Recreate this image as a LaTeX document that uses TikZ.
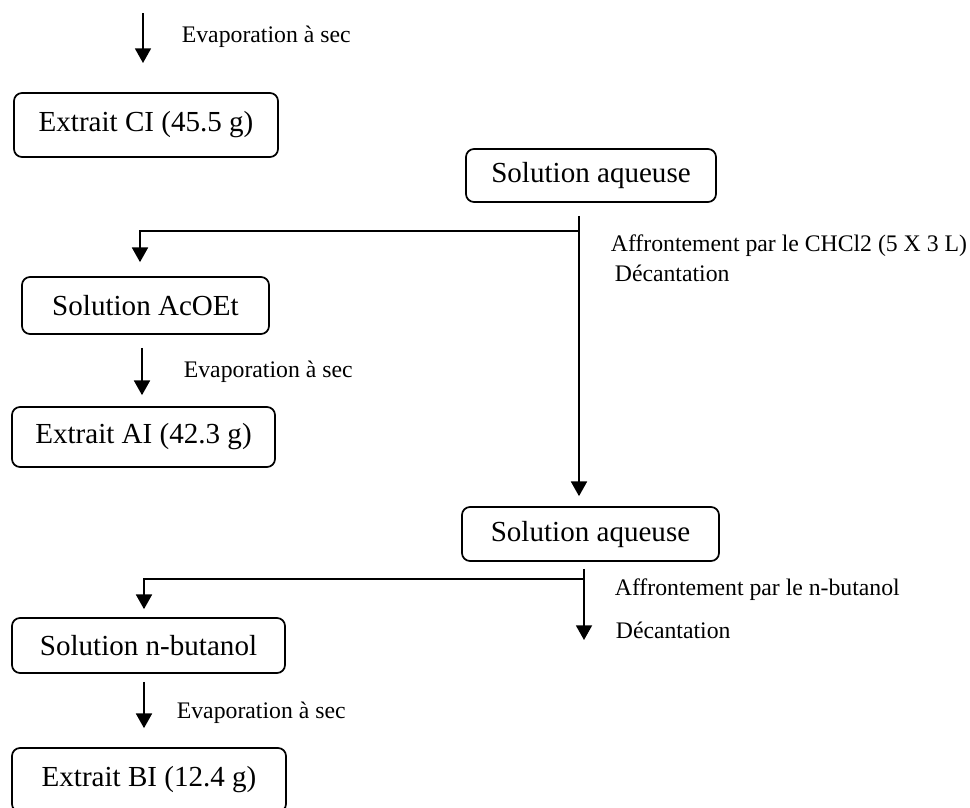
\documentclass[tikz,border=0pt]{standalone}
\usepackage{fontspec}
\setmainfont{Liberation Serif}
\usetikzlibrary{arrows.meta}

\newcommand{\boxfont}{\fontsize{21.8}{26}\selectfont}
\newcommand{\labfont}{\fontsize{17.8}{21}\selectfont}

\tikzset{every picture/.style={line width=1.3pt}}
\tikzset{
  etape/.style={draw, rounded corners=6pt, inner sep=0pt, font=\boxfont},
  fleche/.style={-{Triangle[width=12pt,length=11pt]}},
  legende/.style={anchor=west, inner sep=0.75pt, font=\labfont}
}

\begin{document}
\begin{tikzpicture}[x=0.75pt,y=0.75pt,yscale=-1,xscale=1]
    \useasboundingbox (0,0) rectangle (970,807);
    \clip (0,0) rectangle (970,807);
    %Boxes
    \node (ci) [etape, minimum width=198pt, minimum height=48pt] at (146,125) {Extrait CI (45.5 g)};
    \node (aqa) [etape, minimum width=187.5pt, minimum height=39.75pt] at (591,175.5) {Solution aqueuse};
    \node (acoet) [etape, minimum width=185.25pt, minimum height=42.75pt] at (145.5,305.5) {Solution AcOEt};
    \node (ai) [etape, minimum width=197.25pt, minimum height=45pt] at (143.5,437) {Extrait AI (42.3 g)};
    \node (aqb) [etape, minimum width=192.75pt, minimum height=40.5pt] at (590.5,534) {Solution aqueuse};
    \node (nbut) [etape, minimum width=204.75pt, minimum height=41.25pt] at (148.5,645.5) {Solution n-butanol};
    \node (bi) [etape, minimum width=205.5pt, minimum height=48pt] at (149,780) {Extrait BI (12.4 g)};
    %Points
    \coordinate (haut) at (143,13);
    \coordinate (bas) at (143,63);
    \coordinate (ja) at (579,231);
    \coordinate (ca) at (140,231);
    \coordinate (jb) at (584,579);
    \coordinate (cb) at (144,579);
    \coordinate (fb) at (584,640);
    %Arrows
    \draw [fleche] (haut) -- (bas);
    \draw [fleche, shorten <=9.75pt, shorten >=7.5pt] (aqa.south -| ja) -- (ja |- aqb.north);
    \draw [fleche, shorten >=10.5pt] (ja) -- (ca) -- (ca |- acoet.north);
    \draw [fleche, shorten <=9.75pt, shorten >=8.25pt] (acoet.south -| 142,0) -- (ai.north -| 142,0);
    \draw [fleche, shorten <=5.25pt] (aqb.south -| jb) -- (fb);
    \draw [fleche, shorten >=6pt] (jb) -- (cb) -- (cb |- nbut.north);
    \draw [fleche, shorten <=6pt, shorten >=14.25pt] (nbut.south -| cb) -- (bi.north -| cb);
    % Text Node
    \draw (180,37) node (eva) [legende] {Evaporation à sec};
    % Text Node
    \draw (609,246) node (afa) [legende] {Affrontement par le CHCl2 (5 X 3 L)};
    % Text Node
    \draw (613,273) node (dca) [legende] {Décantation};
    % Text Node
    \draw (182,372) node (evb) [legende] {Evaporation à sec};
    % Text Node
    \draw (613,590) node (afb) [legende] {Affrontement par le n-butanol};
    % Text Node
    \draw (614,630) node (dcb) [legende] {Décantation};
    % Text Node
    \draw (175,713) node (evc) [legende] {Evaporation à sec};
\end{tikzpicture}
\end{document}
